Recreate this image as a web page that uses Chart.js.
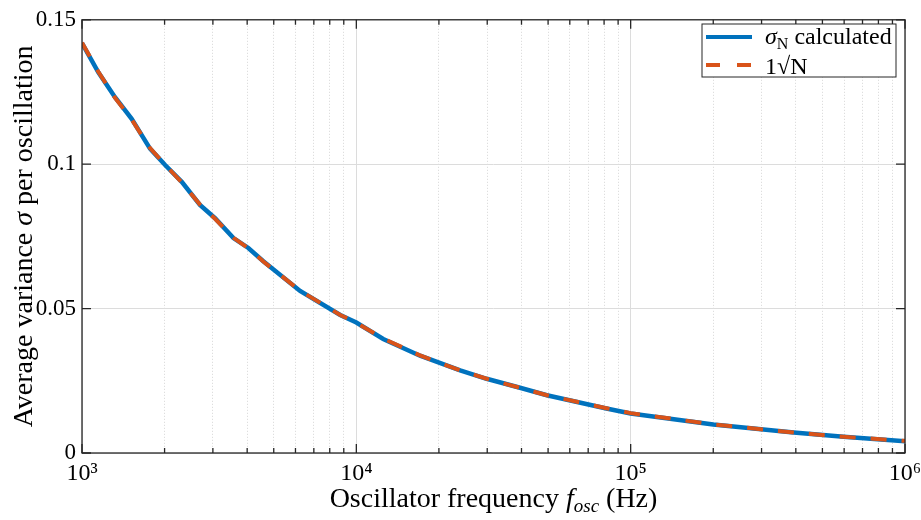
<!DOCTYPE html>
<html>
<head>
<meta charset="utf-8">
<script src="https://cdn.jsdelivr.net/npm/chart.js@4"></script>
<style>
  html, body { margin: 0; padding: 0; background: #fff; }
  #wrap { width: 921px; height: 520px; }
</style>
</head>
<body>
<div id="wrap"><canvas id="graphId" width="921" height="520"></canvas></div>
<script>
// values
var freqHz = [1000, 1147, 1319, 1517, 1770, 2009, 2310, 2692, 3055, 3565, 4040, 4580,
  6237, 8735, 10000, 12530, 17070, 23900, 29850, 39500, 49500, 81600, 100000,
  200000, 393000, 597000, 1000000];
var sigmaCalc = [0.1419, 0.1318, 0.1232, 0.1157, 0.1054, 0.0997, 0.0939, 0.0859, 0.0813, 0.0744, 0.0710, 0.0664,
  0.0561, 0.0478, 0.0452, 0.0395, 0.0337, 0.0286, 0.0257, 0.0226, 0.0200, 0.0154, 0.0137,
  0.0099, 0.0071, 0.0056, 0.0041];
var sigmaSqrt = [0.1421, 0.1320, 0.1230, 0.1155, 0.1056, 0.0998, 0.0937, 0.0860, 0.0811, 0.0745, 0.0709, 0.0663,
  0.0562, 0.0478, 0.0451, 0.0396, 0.0338, 0.0286, 0.0257, 0.0226, 0.0200, 0.0155, 0.0138,
  0.0099, 0.0071, 0.0056, 0.0042];
var yTicks = [0, 0.05, 0.1, 0.15];
var yTickLabels = ['0', '0.05', '0.1', '0.15'];
var decades = [1000, 10000, 100000, 1000000];
var decadeLabels = ['10\u00B3', '10\u2074', '10\u2075', '10\u2076'];

var serif = "'Liberation Serif', 'Times New Roman', serif";
var blue = '#0072BD';
var orange = '#D95319';

function isDecade(v) {
  return decades.indexOf(v) >= 0;
}

// box, inward ticks, axis titles and legend drawn on top
var decorPlugin = {
  id: 'decor',
  afterDraw: function(chart) {
    var ctx = chart.ctx;
    var a = chart.chartArea;
    var xs = chart.scales.x, ys = chart.scales.y;
    ctx.save();
    ctx.strokeStyle = '#262626';
    ctx.lineWidth = 1.3;
    ctx.strokeRect(a.left, a.top, a.right - a.left, a.bottom - a.top);
    ctx.beginPath();
    xs.ticks.forEach(function(t) {
      var px = xs.getPixelForValue(t.value);
      var len = isDecade(t.value) ? 9 : 5;
      ctx.moveTo(px, a.bottom); ctx.lineTo(px, a.bottom - len);
      ctx.moveTo(px, a.top); ctx.lineTo(px, a.top + len);
    });
    yTicks.forEach(function(v) {
      var py = ys.getPixelForValue(v);
      ctx.moveTo(a.left, py); ctx.lineTo(a.left + 9, py);
      ctx.moveTo(a.right, py); ctx.lineTo(a.right - 9, py);
    });
    ctx.stroke();

    // x axis title
    ctx.fillStyle = '#000';
    ctx.textBaseline = 'alphabetic';
    var parts = [
      {t: 'Oscillator frequency ', f: '28px ' + serif, dy: 0},
      {t: 'f', f: 'italic 28px ' + serif, dy: 0},
      {t: 'osc', f: 'italic 19px ' + serif, dy: 5},
      {t: ' (Hz)', f: '28px ' + serif, dy: 0}
    ];
    var w = 0;
    parts.forEach(function(p) { ctx.font = p.f; w += ctx.measureText(p.t).width; });
    var x0 = (a.left + a.right) / 2 - w / 2;
    parts.forEach(function(p) {
      ctx.font = p.f;
      ctx.fillText(p.t, x0, 507 + p.dy);
      x0 += ctx.measureText(p.t).width;
    });

    // y axis title
    ctx.save();
    ctx.translate(32, (a.top + a.bottom) / 2);
    ctx.rotate(-Math.PI / 2);
    var yparts = [
      {t: 'Average variance ', f: '28px ' + serif},
      {t: '\u03C3', f: 'italic 28px ' + serif},
      {t: ' per oscillation', f: '28px ' + serif}
    ];
    w = 0;
    yparts.forEach(function(p) { ctx.font = p.f; w += ctx.measureText(p.t).width; });
    x0 = -w / 2;
    yparts.forEach(function(p) {
      ctx.font = p.f;
      ctx.fillText(p.t, x0, 0);
      x0 += ctx.measureText(p.t).width;
    });
    ctx.restore();

    // legend
    var lx = 702, ly = 24, lw = 194, lh = 53;
    ctx.fillStyle = '#fff';
    ctx.fillRect(lx, ly, lw, lh);
    ctx.strokeStyle = '#262626';
    ctx.lineWidth = 1;
    ctx.strokeRect(lx, ly, lw, lh);
    var ds = chart.data.datasets;
    ctx.lineWidth = 4;
    ctx.strokeStyle = ds[0].borderColor;
    ctx.setLineDash([]);
    ctx.beginPath(); ctx.moveTo(706, 37); ctx.lineTo(752, 37); ctx.stroke();
    ctx.strokeStyle = ds[1].borderColor;
    ctx.setLineDash([14, 17]);
    ctx.beginPath(); ctx.moveTo(706, 65); ctx.lineTo(752, 65); ctx.stroke();
    ctx.setLineDash([]);
    ctx.fillStyle = '#000';
    ctx.font = 'italic 24px ' + serif;
    ctx.fillText('\u03C3', 765, 44);
    var sw = ctx.measureText('\u03C3').width;
    ctx.font = '16px ' + serif;
    ctx.fillText('N', 765 + sw, 49);
    var nw = ctx.measureText('N').width;
    ctx.font = '24px ' + serif;
    ctx.fillText(' calculated', 765 + sw + nw, 44);
    ctx.fillText('1\u221AN', 765, 74);
    ctx.restore();
  }
};

var ctx = document.getElementById('graphId').getContext('2d');
var myChart = new Chart(ctx, {
  type: 'line',
  data: {
    datasets: [
      {
        label: '\u03C3N calculated',
        data: freqHz.map(function(f, i) { return {x: f, y: sigmaCalc[i]}; }),
        borderColor: blue,
        backgroundColor: blue,
        borderWidth: 4.5,
        pointRadius: 0,
        tension: 0,
        order: 1
      },
      {
        label: '1\u221AN',
        data: freqHz.map(function(f, i) { return {x: f, y: sigmaSqrt[i]}; }),
        borderColor: orange,
        backgroundColor: orange,
        borderWidth: 4,
        borderDash: [16, 15],
        pointRadius: 0,
        tension: 0,
        order: 0
      }
    ]
  },
  options: {
    responsive: false,
    animation: false,
    layout: { padding: { left: 0, right: 16, top: 17, bottom: 0 } },
    plugins: {
      legend: { display: false },
      tooltip: { enabled: false }
    },
    scales: {
      x: {
        type: 'logarithmic',
        min: 1000,
        max: 1000000,
        afterBuildTicks: function(scale) {
          var t = [];
          for (var d = 1000; d < 1000000; d *= 10) {
            for (var m = 1; m < 10; m++) t.push({value: m * d});
          }
          t.push({value: 1000000});
          scale.ticks = t;
        },
        afterFit: function(scale) {
          scale.height = 67;
          scale.paddingRight = 0;
          scale.paddingLeft = 0;
        },
        ticks: {
          autoSkip: false,
          maxRotation: 0,
          padding: 6,
          color: '#000',
          font: { family: serif, size: 24 },
          callback: function(value) {
            var k = decades.indexOf(value);
            return k >= 0 ? decadeLabels[k] : '';
          }
        },
        grid: {
          drawTicks: false,
          lineWidth: 1,
          color: function(c) {
            return c.tick && isDecade(c.tick.value) ? '#dcdcdc' : '#d6d6d6';
          }
        },
        border: {
          display: false,
          dash: function(c) {
            return c.tick && isDecade(c.tick.value) ? [] : [1, 2];
          }
        }
      },
      y: {
        min: 0,
        max: 0.15,
        afterBuildTicks: function(scale) {
          scale.ticks = yTicks.map(function(v) { return {value: v}; });
        },
        afterFit: function(scale) { scale.width = 82; },
        ticks: {
          padding: 6,
          color: '#000',
          font: { family: serif, size: 23 },
          callback: function(value) {
            var k = yTicks.indexOf(value);
            return k >= 0 ? yTickLabels[k] : '';
          }
        },
        grid: {
          drawTicks: false,
          color: '#dcdcdc',
          lineWidth: 1
        },
        border: { display: false }
      }
    }
  },
  plugins: [decorPlugin]
});
</script>
</body>
</html>
